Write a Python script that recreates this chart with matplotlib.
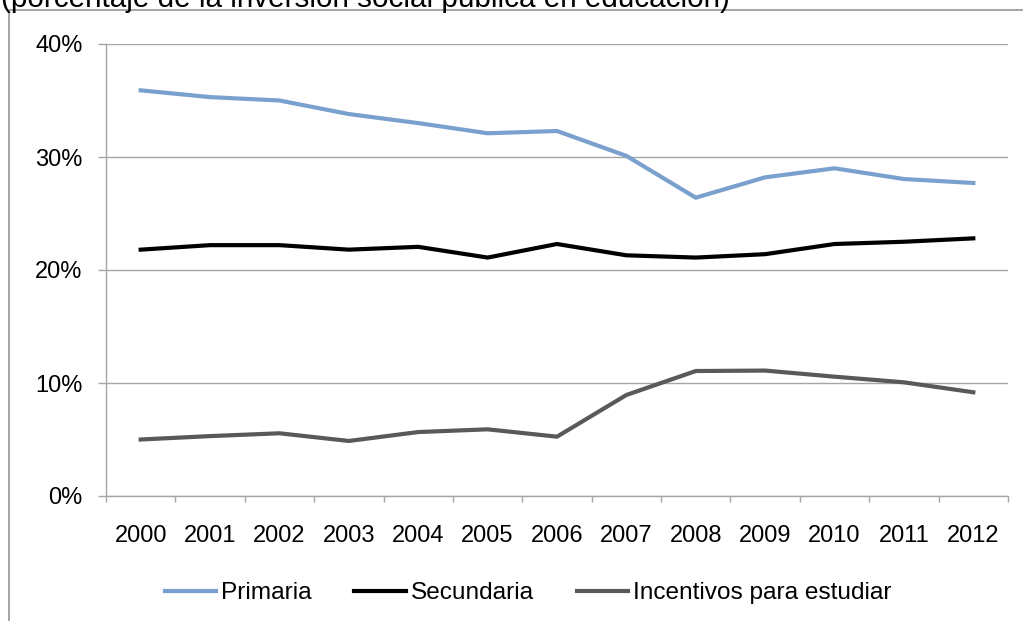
import matplotlib
matplotlib.use("Agg")
import matplotlib.pyplot as plt
from matplotlib.patches import Rectangle
from matplotlib.ticker import FuncFormatter, FixedLocator

years = ["2000", "2001", "2002", "2003", "2004", "2005", "2006",
         "2007", "2008", "2009", "2010", "2011", "2012"]
primaria = [35.9, 35.3, 35.0, 33.8, 33.0, 32.1, 32.3, 30.1, 26.4, 28.2, 29.0, 28.05, 27.7]
secundaria = [21.8, 22.2, 22.2, 21.8, 22.05, 21.1, 22.3, 21.3, 21.1, 21.4, 22.3, 22.5, 22.8]
incentivos = [5.0, 5.3, 5.55, 4.87, 5.66, 5.9, 5.25, 8.94, 11.06, 11.1, 10.56, 10.06, 9.18]
series_names = ["Primaria", "Secundaria", "Incentivos para estudiar"]
title = "(porcentaje de la inversión social pública en educación)"

plt.rcParams['font.family'] = ['Liberation Sans', 'DejaVu Sans']

W, H = 1023, 621
fig = plt.figure(figsize=(W / 100, H / 100), dpi=100)

# outer frame (partially cut)
fig.patches.append(Rectangle((9 / W, -0.1), 1.2, 1 - 10 / H + 0.1,
                             transform=fig.transFigure, fill=False,
                             edgecolor="#8c8c8c", linewidth=1.1))

fig.text(1 / W, 1 - 7 / H, title, fontsize=21.3, ha="left", va="baseline", color="black")

ax = fig.add_axes([106 / W, (H - 496) / H, 902 / W, 452 / H])
x = list(range(len(years)))
ax.plot(x, primaria, color="#7aa0cd", lw=3.0, label=series_names[0], solid_joinstyle="round")
ax.plot(x, secundaria, color="#000000", lw=3.0, label=series_names[1], solid_joinstyle="round")
ax.plot(x, incentivos, color="#595959", lw=3.0, label=series_names[2], solid_joinstyle="round")

ax.set_xlim(-0.5, len(years) - 0.5)
ax.set_ylim(0, 40)
ax.set_yticks([0, 10, 20, 30, 40])
ax.yaxis.set_major_formatter(FuncFormatter(lambda v, p: f"{int(v)}%"))
ax.grid(axis="y", color="#a6a6a6", lw=1.0)
ax.set_axisbelow(True)

ax.set_xticks(x)
ax.set_xticklabels(years)
ax.xaxis.set_minor_locator(FixedLocator([i - 0.5 for i in range(len(years) + 1)]))
ax.tick_params(axis="x", which="major", length=0, pad=21, labelsize=17)
ax.tick_params(axis="x", which="minor", length=4, color="#a6a6a6", width=1.0, direction="out")
ax.tick_params(axis="y", which="major", length=5.8, color="#a6a6a6", width=1.0, pad=11, labelsize=17)

for s in ["top", "right"]:
    ax.spines[s].set_visible(False)
for s in ["left", "bottom"]:
    ax.spines[s].set_color("#a6a6a6")
    ax.spines[s].set_linewidth(1.0)

leg = fig.legend(loc="center", bbox_to_anchor=(528 / W, 1 - 593 / H), ncol=3,
                 frameon=False, handlelength=2.1, handletextpad=0.2,
                 columnspacing=1.75, prop={"size": 17.6})

fig.savefig("out.png", dpi=100)
